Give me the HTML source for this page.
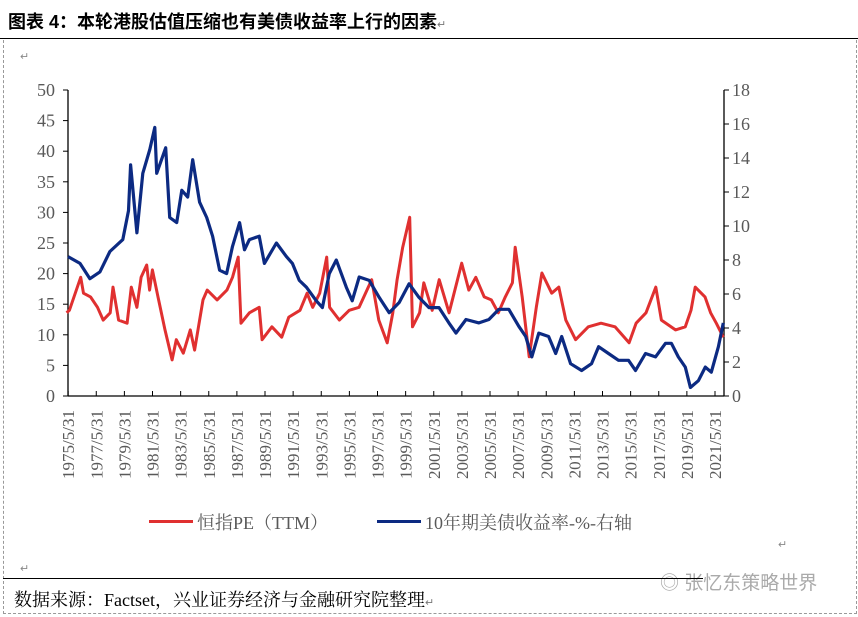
<!DOCTYPE html>
<html><head><meta charset="utf-8">
<style>
html,body{margin:0;padding:0;background:#fff;}
body{width:858px;height:617px;position:relative;overflow:hidden;font-family:"Liberation Serif","Noto Serif CJK SC",serif;}
.t{position:absolute;white-space:nowrap;}
</style></head>
<body>
<div style="position:absolute;left:3px;top:40px;width:852px;height:573px;border-left:1px dashed #999;border-right:1px dashed #999;border-bottom:1px dashed #999;"></div>
<div class="t" style="left:8px;top:8px;font:bold 18px 'Liberation Sans','Noto Sans CJK SC',sans-serif;color:#000;">图表 4：本轮港股估值压缩也有美债收益率上行的因素<span style="font-weight:normal;font-size:11px;color:#777">↵</span></div>
<div style="position:absolute;left:0;top:38px;width:858px;height:1px;background:#000;"></div>
<div class="t" style="left:20px;top:50px;font-size:11px;color:#888;">↵</div>
<svg id="chart" width="858" height="617" style="position:absolute;left:0;top:0;"></svg>
<div>
<div style="position:absolute;left:149px;top:520px;width:44px;height:3px;background:#e03030;"></div>
<div class="t" style="left:197px;top:509px;font-size:18px;color:#595959;">恒指PE（TTM）</div>
<div style="position:absolute;left:377px;top:520px;width:44px;height:3px;background:#0c2a82;"></div>
<div class="t" style="left:425px;top:509px;font-size:18px;color:#595959;">10年期美债收益率-%-右轴</div>
</div>
<div class="t" style="left:20px;top:562px;font-size:11px;color:#888;">↵</div>
<div class="t" style="left:778px;top:538px;font-size:11px;color:#888;">↵</div>
<div class="t" style="left:660px;top:568px;font:19px 'Liberation Sans','Noto Sans CJK SC',sans-serif;color:#aaa;">◎ 张忆东策略世界</div>
<div style="position:absolute;left:3px;top:578px;width:700px;height:1px;background:#000;"></div>
<div class="t" style="left:14px;top:586px;font-size:18px;color:#000;font-family:'Liberation Serif','Noto Serif CJK SC',serif;">数据来源：Factset，兴业证券经济与金融研究院整理<span style="font-size:11px;color:#777">↵</span></div>
<script>
const peDates=[1975.3,1975.5,1976.3,1976.5,1977.0,1977.5,1977.9,1978.4,1978.6,1979.0,1979.6,1979.9,1980.3,1980.6,1981.0,1981.2,1981.4,1981.8,1982.3,1982.8,1983.1,1983.6,1984.1,1984.4,1985.0,1985.3,1986.0,1986.7,1987.1,1987.5,1987.7,1988.3,1989.0,1989.2,1989.9,1990.6,1991.1,1991.9,1992.4,1992.8,1993.3,1993.8,1994.0,1994.7,1995.4,1996.1,1997.0,1997.5,1998.1,1998.5,1998.8,1999.2,1999.7,1999.9,2000.4,2000.7,2001.3,2001.8,2002.5,2003.4,2003.9,2004.4,2005.0,2005.5,2006.0,2006.5,2007.0,2007.2,2007.7,2008.2,2008.7,2009.1,2009.8,2010.3,2010.8,2011.5,2012.4,2013.3,2014.3,2015.3,2015.8,2016.5,2017.2,2017.6,2018.6,2019.3,2019.7,2020.0,2020.7,2021.1,2021.5,2022.0];
const peValues=[13.6,14,19.4,16.8,16.2,14.5,12.4,13.6,17.8,12.4,11.9,17.8,14.5,19.4,21.4,17.3,20.6,16.2,10.8,5.9,9.2,7.0,10.8,7.5,15.7,17.3,15.7,17.3,19.4,22.7,11.9,13.6,14.5,9.2,11.3,9.6,12.9,14,16.8,14.5,16.8,22.7,14.5,12.4,14,14.5,19,12.4,8.7,13.6,19,24.3,29.2,11.3,13.6,18.5,14,19,13.6,21.7,17.3,19.4,16.2,15.7,13.6,16.2,18.5,24.3,16.2,6.4,14.5,20.1,16.8,17.8,12.4,9.2,11.3,11.9,11.3,8.7,11.9,13.6,17.8,12.4,10.8,11.3,14,17.8,16.2,13.6,11.9,9.6];
const yDates=[1975.4,1976.25,1976.96,1977.67,1978.38,1979.3,1979.7,1979.85,1980.3,1980.72,1981.22,1981.57,1981.71,1982.35,1982.63,1983.13,1983.49,1983.91,1984.27,1984.76,1985.26,1985.68,1986.18,1986.68,1987.1,1987.6,1987.95,1988.3,1989.0,1989.37,1990.22,1990.93,1991.36,1991.85,1992.35,1993.06,1993.49,1993.98,1994.48,1995.19,1995.61,1996.11,1996.82,1997.53,1998.24,1998.95,1999.66,2000.36,2001.07,2001.78,2002.49,2002.99,2003.7,2004.62,2005.33,2006.04,2006.75,2007.46,2007.95,2008.38,2008.88,2009.58,2010.08,2010.51,2011.14,2011.92,2012.63,2013.13,2013.84,2014.55,2015.26,2015.76,2016.47,2017.18,2017.89,2018.31,2018.8,2019.3,2019.66,2020.23,2020.72,2021.15,2021.65,2022.0];
const yValues=[8.2,7.8,6.9,7.3,8.5,9.2,10.9,13.6,9.6,13.1,14.5,15.8,13.1,14.6,10.5,10.2,12.1,11.7,13.9,11.4,10.5,9.4,7.4,7.2,8.8,10.2,8.6,9.2,9.4,7.8,9.0,8.2,7.8,6.8,6.4,5.6,5.2,7.2,8.0,6.4,5.6,7.0,6.8,5.8,4.9,5.5,6.6,5.8,5.2,5.2,4.3,3.7,4.5,4.3,4.5,5.1,5.1,4.1,3.5,2.3,3.7,3.5,2.5,3.5,1.9,1.5,1.9,2.9,2.5,2.1,2.1,1.5,2.5,2.3,3.1,3.1,2.3,1.7,0.5,0.9,1.7,1.4,2.9,4.3];
const leftTicks=[0,5,10,15,20,25,30,35,40,45,50];
const rightTicks=[0,2,4,6,8,10,12,14,16,18];
const xTickYears=[1975,1977,1979,1981,1983,1985,1987,1989,1991,1993,1995,1997,1999,2001,2003,2005,2007,2009,2011,2013,2015,2017,2019,2021];

const X0=68,X1=724,Y0=396,Y1=90,D0=1975.4,D1=2022.05;
const sx=d=>X0+(d-D0)/(D1-D0)*(X1-X0);
const syL=v=>Y0-v/50*(Y0-Y1);
const syR=v=>Y0-v/18*(Y0-Y1);
const svg=document.getElementById('chart');
const NS='http://www.w3.org/2000/svg';
function mk(t,a){const e=document.createElementNS(NS,t);for(const k in a)e.setAttribute(k,a[k]);svg.appendChild(e);return e;}
// axes
let e=mk('line',{x1:X0,y1:Y1,x2:X0,y2:Y0,stroke:'#000','stroke-width':1.3});


e=mk('line',{x1:X1,y1:Y1,x2:X1,y2:Y0,stroke:'#000','stroke-width':1.3});


e=mk('line',{x1:X0,y1:Y0,x2:X1,y2:Y0,stroke:'#000','stroke-width':1.3});


leftTicks.forEach(v=>{
  const y=syL(v);
  let l=mk('line',{x1:X0-5,y1:y,x2:X0,y2:y,stroke:'#000'});
  
  
  let t=mk('text',{x:X0-13,y:y+6,'text-anchor':'end','font-size':18,fill:'#595959','font-family':'Liberation Serif,serif'});
  t.textContent=v;
  
  
});
rightTicks.forEach(v=>{
  const y=syR(v);
  let l=mk('line',{x1:X1,y1:y,x2:X1+5,y2:y,stroke:'#000'});
  
  
  let t=mk('text',{x:X1+8,y:y+6,'text-anchor':'start','font-size':18,fill:'#595959','font-family':'Liberation Serif,serif'});
  t.textContent=v;
  
  
});
xTickYears.forEach(yr=>{
  const x=sx(yr+0.41);
  let l=mk('line',{x1:x,y1:Y0-5,x2:x,y2:Y0,stroke:'#000'});
  
  
  let t=mk('text',{x:0,y:0,'text-anchor':'end','font-size':17,fill:'#595959','font-family':'Liberation Serif,serif',transform:`translate(${x+6},410) rotate(-90)`});
  t.textContent=yr+'/5/31';
  
  
});
function path(ds,vs,sy){return ds.map((d,i)=>(i?'L':'M')+sx(d).toFixed(1)+','+sy(vs[i]).toFixed(1)).join('');}
let p=mk('path',{d:path(peDates,peValues,syL),fill:'none',stroke:'#e03030','stroke-width':3,'stroke-linejoin':'round'});


p=mk('path',{d:path(yDates,yValues,syR),fill:'none',stroke:'#0c2a82','stroke-width':3.2,'stroke-linejoin':'round'});


</script>
</body></html>
